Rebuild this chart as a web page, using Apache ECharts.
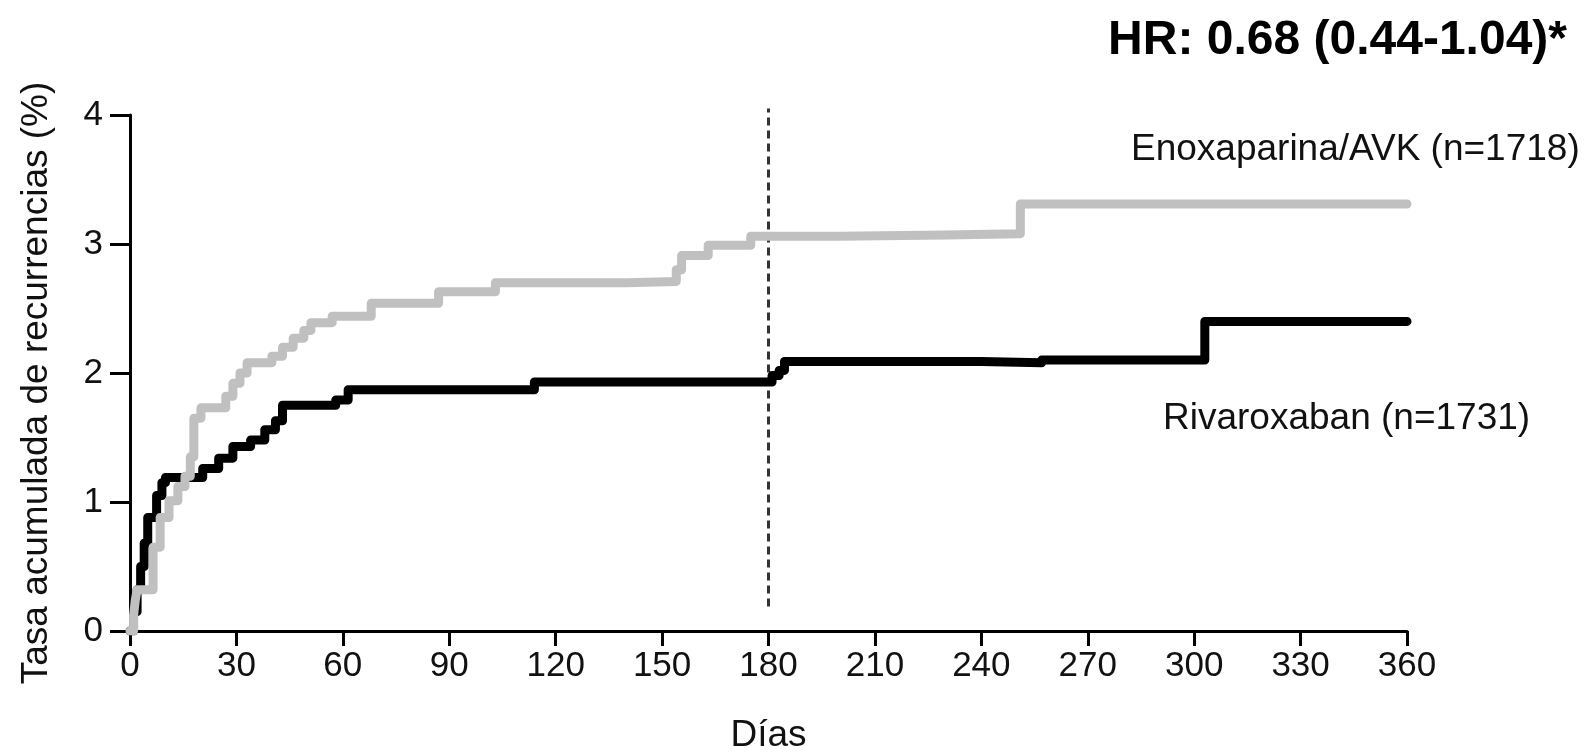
<!DOCTYPE html>
<html>
<head>
<meta charset="utf-8">
<title>Tasa acumulada de recurrencias</title>
<script src="https://cdn.jsdelivr.net/npm/echarts@6/dist/echarts.min.js"></script>
<style>
    html, body { margin: 0; padding: 0; background: #fff; }
    #chart { width: 1595px; height: 753px; }
</style>
</head>
<body>
<div id="chart"></div>
<script>
// Kaplan-Meier style cumulative recurrence
const rivaDays = [0, 1, 2, 3, 4, 5, 7.5, 9, 10, 20.5, 25, 29, 34, 38, 41, 43, 58, 61.5, 114, 181, 183, 184.5, 240, 257, 303, 360];
const rivaRate = [0, 0.15, 0.32, 0.5, 0.68, 0.88, 1.05, 1.15, 1.19, 1.26, 1.34, 1.43, 1.48, 1.56, 1.63, 1.75, 1.79, 1.87, 1.93, 1.98, 2.02, 2.09, 2.08, 2.10, 2.40, 2.40];

const enoxDays = [0, 1, 1.5, 2, 6.5, 8.5, 11, 13.5, 15.5, 17, 18, 20, 27, 29, 31, 33, 40, 43, 46, 49, 51, 57, 68, 87, 103, 140, 154, 155.5, 163, 175, 200, 230, 251, 360];
const enoxRate = [0, 0.12, 0.24, 0.32, 0.65, 0.88, 1.01, 1.12, 1.2, 1.35, 1.65, 1.73, 1.82, 1.92, 2.0, 2.08, 2.13, 2.2, 2.27, 2.33, 2.39, 2.44, 2.54, 2.63, 2.70, 2.71, 2.80, 2.91, 2.99, 3.06, 3.07, 3.08, 3.31, 3.31];

const cutoffDay = 180;
const cutoffSpan = [0.19, 4.05];

const xTicks = {min: 0, max: 360, interval: 30};
const yTicks = {min: 0, max: 4, interval: 1};

const labels = {
    title: 'HR: 0.68 (0.44-1.04)*',
    enox: 'Enoxaparina/AVK (n=1718)',
    riva: 'Rivaroxaban (n=1731)',
    xName: 'Días',
    yName: 'Tasa acumulada de recurrencias (%)',
};

const font = '"Liberation Sans", Arial, sans-serif';
const zip = (xs, ys) => xs.map((x, i) => [x, ys[i]]);

const chart = echarts.init(document.getElementById('chart'), null, {renderer: 'canvas'});

chart.setOption({
    animation: false,
    backgroundColor: '#fff',
    textStyle: {fontFamily: font},
    // fixed plot box; don't let v6 shrink it to fit the axis names
    grid: {left: 130, right: 188, top: 115, bottom: 122, containLabel: false, outerBoundsMode: 'none'},
    xAxis: {
        type: 'value',
        ...xTicks,
        name: labels.xName,
        nameLocation: 'middle',
        nameGap: 86,
        nameTextStyle: {fontSize: 37, color: '#111', fontFamily: font},
        axisLine: {lineStyle: {color: '#000', width: 3}},
        axisTick: {length: 15, lineStyle: {color: '#000', width: 3}},
        axisLabel: {fontSize: 35, color: '#111', margin: 18, fontFamily: font},
        splitLine: {show: false},
    },
    yAxis: {
        type: 'value',
        ...yTicks,
        name: labels.yName,
        nameLocation: 'middle',
        nameGap: 75,
        nameTextStyle: {fontSize: 37, color: '#111', fontFamily: font, padding: [0, 20, 0, 0]},
        axisLine: {show: true, lineStyle: {color: '#000', width: 3}},
        axisTick: {show: true, length: 20, lineStyle: {color: '#000', width: 3}},
        axisLabel: {fontSize: 35, color: '#111', margin: 27, fontFamily: font},
        splitLine: {show: false},
    },
    series: [
        {
            name: 'cutoff',
            type: 'line',
            data: cutoffSpan.map(v => [cutoffDay, v]),
            symbol: 'none',
            clip: false,
            silent: true,
            lineStyle: {color: '#333', width: 3, type: [8, 5]},
            z: 1,
        },
        {
            name: labels.riva,
            type: 'line',
            step: 'end',
            data: zip(rivaDays, rivaRate),
            symbol: 'none',
            lineStyle: {color: '#000', width: 9, cap: 'round', join: 'round'},
            z: 2,
        },
        {
            name: labels.enox,
            type: 'line',
            step: 'end',
            data: zip(enoxDays, enoxRate),
            symbol: 'none',
            lineStyle: {color: '#c0c0c0', width: 9, cap: 'round', join: 'round'},
            z: 3,
        },
    ],
    graphic: [
        {
            type: 'text', right: 28, top: 17,
            style: {text: labels.title, fill: '#000', font: `bold 48px ${font}`},
        },
        {
            type: 'text', left: 1131, top: 131,
            style: {text: labels.enox, fill: '#111', font: `37px ${font}`},
        },
        {
            type: 'text', left: 1163, top: 400,
            style: {text: labels.riva, fill: '#111', font: `37px ${font}`},
        },
    ],
});
</script>
</body>
</html>
